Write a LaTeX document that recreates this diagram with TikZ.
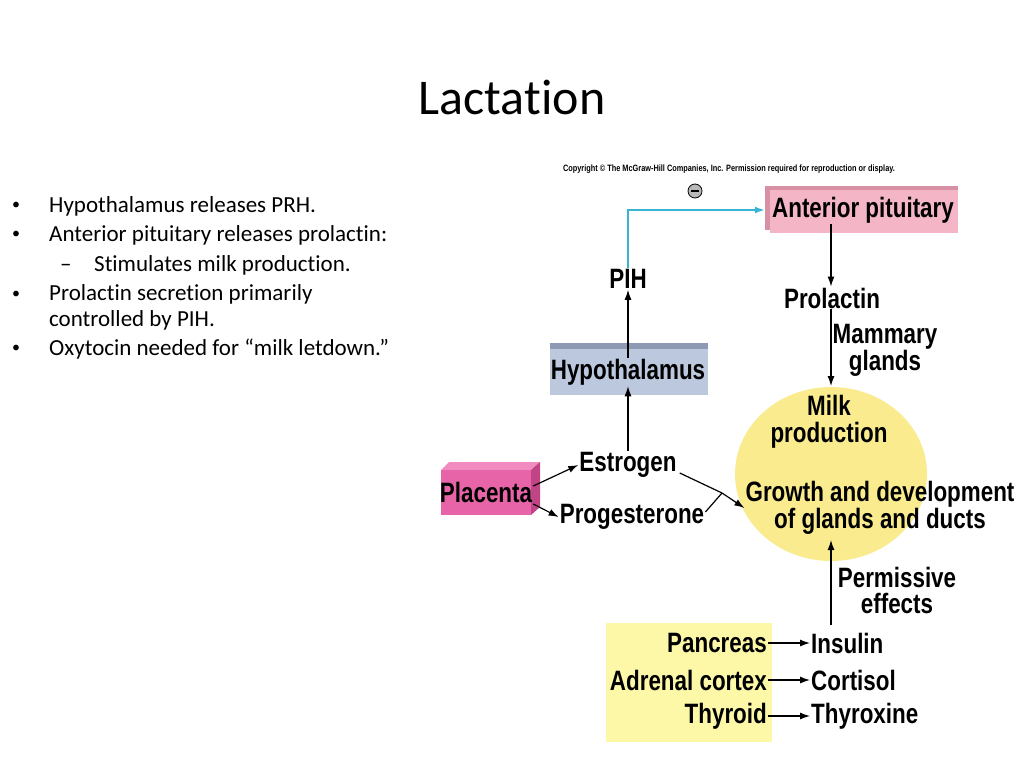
\documentclass[tikz,border=0pt]{standalone}
\usepackage{fontspec}
\setmainfont{Carlito}[Ligatures={NoCommon}]
\newfontfamily\diagfont[FakeStretch=0.8]{Liberation Sans}
\usepackage{tikz}
\usetikzlibrary{arrows.meta}

\definecolor{pitpink}{HTML}{F4B6C6}
\definecolor{pitdark}{HTML}{D890A4}
\definecolor{hypoblue}{HTML}{BCC8DE}
\definecolor{hypodark}{HTML}{8E9AB4}
\definecolor{placpink}{HTML}{E864A8}
\definecolor{placdark}{HTML}{C04486}
\definecolor{placlight}{HTML}{F08CC0}
\definecolor{milkyellow}{HTML}{FAEC8E}
\definecolor{boxyellow}{HTML}{FCF8A8}
\definecolor{pihblue}{HTML}{3AB4D4}

\tikzset{
  lbl/.style={font=\diagfont\bfseries\fontsize{28}{28}\selectfont, inner sep=1pt, align=center},
  bullet/.style={font=\fontsize{23}{26}\selectfont, anchor=west, inner sep=0pt},
  dot/.style={font=\fontsize{16}{16}\selectfont, anchor=west, inner sep=0pt},
  conn/.style={-{Latex[length=10pt,width=7pt]}, line width=1.2pt},
}

\begin{document}
\begin{tikzpicture}[x=1pt, y=-1pt]

        \useasboundingbox[fill=white] (0,0) rectangle (1024,768);

        \node[font=\fontsize{50}{56}\selectfont] (title) at (512,97) {Lactation};

        % bullet list
        \node[dot] (b1) at (12,206) {\textbullet};
        \node[bullet] (t1) at (49,206) {Hypothalamus releases PRH.};
        \node[dot] (b2) at (12,235) {\textbullet};
        \node[bullet] (t2) at (49,235) {Anterior pituitary releases prolactin:};
        \node[bullet] (d3) at (60,268) {\textendash};
        \node[bullet] (t3) at (94,265) {Stimulates milk production.};
        \node[dot] (b4) at (12,295) {\textbullet};
        \node[bullet, align=left] (t4) at (49,307) {Prolactin secretion primarily\\controlled by PIH.};
        \node[dot] (b5) at (12,349) {\textbullet};
        \node[bullet] (t5) at (49,349) {Oxytocin needed for \char"201Cmilk letdown.\char"201D};

        % figure
        \node[font=\diagfont\bfseries\fontsize{9.2}{10}\selectfont] (copy) at (729,169)
          {Copyright \textcopyright{} The McGraw-Hill Companies, Inc. Permission required for reproduction or display.};

        \fill[pitdark] (765,186) rectangle (958,230);
        \fill[pitpink] (770,190) rectangle (958,233);
        \node[lbl] (ant) at (863,210) {Anterior pituitary};

        \fill[milkyellow] (831,474) ellipse (96 and 87);

        \fill[hypodark] (550,343) rectangle (708,349);
        \fill[hypoblue] (550,349) rectangle (708,395);
        \node[lbl] (hypo) at (628,372) {Hypothalamus};

        \fill[placlight] (441,470) -- (449,462) -- (540,462) -- (531,470) -- cycle;
        \fill[placdark] (531,470) -- (540,462) -- (540,507) -- (531,515) -- cycle;
        \fill[placpink] (441,470) rectangle (531,515);
        \node[lbl] (plac) at (486,492) {Placenta};

        \fill[boxyellow] (606,623) rectangle (772,742);

        \node[lbl] (pih) at (628,279) {PIH};
        \node[lbl] (prl) at (832,298) {Prolactin};
        \node[lbl, font=\diagfont\bfseries\fontsize{28}{26}\selectfont] (mam) at (885,350) {Mammary\\glands};
        \node[lbl, font=\diagfont\bfseries\fontsize{28}{27}\selectfont] (milk) at (829,422) {Milk\\production};
        \node[lbl, font=\diagfont\bfseries\fontsize{28}{25}\selectfont] (grow) at (880,508) {Growth and development\\of glands and ducts};
        \node[lbl, font=\diagfont\bfseries\fontsize{28}{26}\selectfont] (perm) at (897,590) {Permissive\\effects};
        \node[lbl] (est) at (628,465) {Estrogen};
        \node[lbl] (prog) at (632,517) {Progesterone};

        \node[lbl, anchor=east] (panc) at (768,643) {Pancreas};
        \node[lbl, anchor=east] (adr) at (768,680) {Adrenal cortex};
        \node[lbl, anchor=east] (thy) at (768,716) {Thyroid};
        \node[lbl, anchor=west] (ins) at (810,643) {Insulin};
        \node[lbl, anchor=west] (cort) at (810,680) {Cortisol};
        \node[lbl, anchor=west] (thx) at (810,716) {Thyroxine};

        % inhibition sign
        \node[circle, draw=black, fill=gray!55, line width=0.8pt, minimum size=14pt, inner sep=0pt] (minus) at (695,191) {};
        \draw[line width=2pt] ([xshift=-4pt]minus.center) -- ([xshift=4pt]minus.center);

        \coordinate (pihtop) at (628,210);
        \coordinate (antin) at (765,210);
        \coordinate (merge) at (722,493);
        \coordinate (milktop) at (831,386);
        \coordinate (permtop) at (831,540);
        \coordinate (permbot) at (831,625);

        \draw[conn, pihblue, line width=2pt] (pih.north) -- (pihtop) -- (antin);
        \draw[conn] (ant.south -| 831,0) -- (prl.north -| 831,0);
        \draw[conn] (prl.south -| 831,0) -- (milktop);
        \draw[conn] (hypo.north) -- (pih.south);
        \draw[conn] (est.north) -- (hypo.south);
        \draw[conn] (plac.east) ++(0,-6) -- (est.west);
        \draw[conn] (plac.east) ++(0,12) -- (prog.west);
        \draw[line width=1.2pt] (est.east) ++(2,8) -- (merge);
        \draw[line width=1.2pt] (prog.east) ++(0,-5) -- (merge);
        \draw[conn] (merge) -- (grow.west);
        \draw[conn] (permbot) -- (permtop);
        \draw[conn] (panc.east) -- (ins.west);
        \draw[conn] (adr.east) -- (cort.west);
        \draw[conn] (thy.east) -- (thx.west);

\end{tikzpicture}
\end{document}
